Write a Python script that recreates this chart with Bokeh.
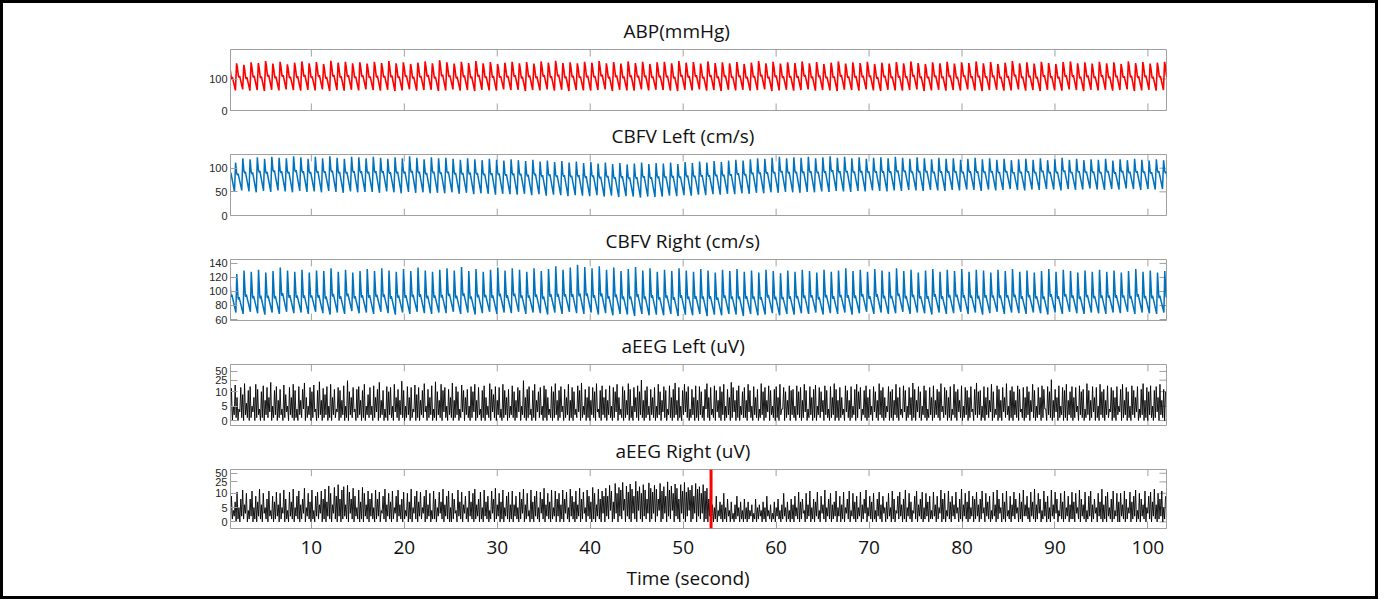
from bokeh.plotting import figure
from bokeh.layouts import column
from bokeh.models import Range1d, LinearAxis, FixedTicker, Span, Title
from bokeh.embed import file_html
from bokeh.resources import INLINE
import math

# ---------------- data ----------------
TITLES = ["ABP(mmHg)", "CBFV Left (cm/s)", "CBFV Right (cm/s)", "aEEG Left (uV)", "aEEG Right (uV)"]
X_LABEL = "Time (second)"
X_TICKS = [10, 20, 30, 40, 50, 60, 70, 80, 90, 100]
MARK_TIME = 53.0
BEAT_PERIOD = 0.78       # seconds per heart beat
AEEG_STEP = 0.2014       # seconds per aEEG oscillation

ABP_SYS = [146,150,145,153,151,157,149,155,147,152, 156,150,154,148,158,152,155,150,153,149,
           155,151,157,150,153,148,152,156,150,160, 153,149,155,151,157,150,154,148,152,155,
           150,154,149,156,152,158,151,153,150,155, 152,157,150,154,149,156,151,155,148,153,
           155,150,157,152,154,149,156,151,153,150, 154,148,152,157,150,155,149,153,151,156,
           150,154,148,152,156,149,153,151,155,148, 152,149,154,150,156,151,148,153,150,155,
           149,153,151,156,150,154,148,152,157,150, 153,149,155,151,148,154,156,150,153,149,
           155,150,153,148,156,151,154,149,152,155]
ABP_DIA = [66,64,67,63,65,62,66,64,67,65, 63,66,64,67,62,65,63,66,64,67, 65,63,66,62,64,67,63,65,66,62,
           64,67,63,65,62,66,64,63,67,65, 66,62,65,64,67,63,66,62,65,64, 63,65,67,62,66,64,63,67,64,66,
           65,63,62,66,64,67,63,65,62,66, 64,66,63,65,67,62,64,66,63,65, 67,63,65,64,62,66,65,63,67,64,
           62,66,64,63,65,67,62,64,66,63, 65,63,67,64,62,65,66,63,64,67, 63,65,62,66,64,63,67,65,62,66,
           64,66,63,65,67,62,64,66,63,65]

CBFV_L_SYS = [118,112,121,119,123,120,124,122,121,125, 123,120,124,121,125,122,120,124,123,121,
              124,122,120,123,121,125,122,119,123,121, 122,120,118,121,119,117,120,118,116,119,
              117,115,118,114,116,113,115,112,114,111, 113,110,112,109,111,108,110,112,109,111,
              110,112,109,113,111,114,112,115,113,116, 118,116,119,121,120,122,124,121,123,122,
              124,121,123,125,122,124,121,123,120,122, 123,121,124,122,120,123,121,119,122,120,
              121,118,120,122,119,121,118,120,117,119, 120,118,121,117,119,122,118,120,117,119,
              118,120,116,119,117,120,118,116,119,117]
CBFV_L_DIA = [52,50,53,51,49,52,50,53,51,49, 52,50,51,49,52,50,48,51,49,50, 50,48,51,49,47,50,48,49,47,48,
              47,49,46,48,45,47,46,44,46,45, 44,46,43,45,42,44,43,41,43,42, 41,43,40,42,39,41,40,38,40,39,
              40,42,41,43,42,44,43,45,44,46, 45,47,46,48,47,49,48,50,49,48, 50,49,51,50,52,51,50,52,51,53,
              52,51,53,52,54,53,52,54,53,52, 54,53,55,54,52,55,53,54,56,54, 53,55,54,56,55,53,56,54,55,57,
              55,54,56,55,57,56,54,56,55,56]

CBFV_R_SYS = [131,125,130,128,131,127,129,134,130,128, 131,127,130,129,133,128,131,127,129,132,
              129,133,130,128,132,129,134,130,128,131, 133,130,135,129,132,128,131,134,130,133,
              131,128,133,129,132,136,131,134,138,135, 133,136,131,134,129,132,135,130,133,128,
              131,129,133,130,128,132,130,127,131,129, 132,128,130,127,131,129,126,130,128,131,
              129,127,131,128,130,133,129,131,128,132, 130,128,133,129,131,127,130,132,128,131,
              129,132,128,131,130,127,131,129,132,128, 130,127,129,132,128,131,129,127,130,128,
              131,128,130,127,129,132,128,130,127,129]
CBFV_R_DIA = [72,70,68,71,69,67,70,68,71,69, 70,68,71,69,67,70,68,72,69,70, 68,71,69,67,70,68,71,69,68,70,
              69,71,68,70,67,69,71,68,70,69, 71,68,70,69,67,70,68,71,69,68, 70,67,69,66,68,67,65,68,66,67,
              66,68,65,67,66,68,65,67,66,68, 67,65,68,66,67,69,66,68,67,69, 68,70,67,69,68,70,67,69,71,68,
              70,68,69,71,68,70,69,67,70,68, 69,71,68,70,67,69,71,68,70,69, 68,70,69,67,70,68,71,69,68,70,
              69,68,70,69,71,68,70,69,68,70]

AEEG_L_PEAK = [
    13,5,17,8,4,14,9,19,6,11,15,5,8,18,12,4,10,16,7,14,8,21,5,11,15,
    7,12,4,17,9,5,14,8,18,11,4,15,7,12,20,8,5,14,10,17,4,11,22,7,13,
    9,15,5,18,8,12,4,14,11,7,16,5,24,10,8,14,4,12,15,7,11,18,5,9,14,
    5,16,8,12,21,7,11,4,15,10,14,5,18,8,12,7,23,11,5,15,8,14,4,17,9,
    14,7,11,19,5,12,8,16,4,22,10,7,18,11,14,5,12,8,20,7,15,10,4,17,11,
    8,12,5,15,10,18,7,14,4,11,16,8,5,19,12,9,15,7,14,4,18,11,8,12,5,
    16,10,7,14,11,5,24,8,12,15,4,11,18,7,10,14,5,16,12,8,4,15,10,19,7,
    11,15,5,12,8,18,7,14,10,4,16,11,20,5,12,8,15,7,14,10,19,4,11,16,8,
    12,7,16,5,14,10,18,8,4,15,11,7,19,12,5,14,8,16,10,25,7,11,15,5,12,
    8,14,5,18,10,7,15,11,4,16,8,12,20,7,14,5,11,18,10,15,4,12,8,16,7,
    15,10,5,12,19,8,14,4,16,11,7,15,10,18,5,12,8,21,14,7,11,16,5,10,14,
    7,18,11,5,15,8,12,4,19,10,14,7,16,11,5,12,15,8,18,4,14,10,7,16,11,
    12,5,16,10,14,7,18,11,4,15,8,12,17,5,14,10,7,16,11,4,15,8,19,12,7,
    14,8,4,16,11,7,15,5,12,18,10,14,4,11,16,8,12,5,15,10,7,19,11,14,8,
    5,15,10,12,7,18,8,14,4,16,11,5,14,8,20,12,7,15,10,5,16,11,4,14,8,
    16,7,12,10,19,5,14,11,8,15,4,18,10,12,7,16,5,14,11,8,15,4,12,20,10,
    11,5,15,8,14,7,18,10,4,16,12,7,14,8,19,5,11,15,10,7,16,12,4,14,8,
    15,10,7,18,11,5,14,8,16,12,4,15,10,26,7,12,8,16,5,14,11,18,7,10,15,
    8,14,5,16,10,12,4,19,11,7,15,8,14,5,18,10,12,7,16,4,14,11,8,15,5,
    12,18,7,14,10,5,16,11,8,15,4,12,19,7,14,10,16,5,11,15,8,18,7,12,10]
AEEG_L_LOW = [
    1,0,2,1,0,3,1,0,2,1,0,1,3,0,1,2,0,1,0,2,1,3,0,1,2,
    0,1,2,0,1,3,0,2,1,0,1,0,2,1,4,0,1,2,0,1,3,0,1,2,0,
    1,2,0,1,0,2,1,3,0,1,2,0,1,0,2,1,3,0,1,2,0,1,0,2,1,
    2,0,1,3,0,1,2,0,1,0,2,1,0,3,1,0,2,1,0,1,2,0,1,3,0,
    1,0,2,1,3,0,1,2,0,1,0,2,1,0,3,1,0,2,1,0,1,2,0,1,3,
    0,2,1,0,1,3,0,1,2,0,1,0,2,1,0,3,1,0,2,1,0,1,2,0,1,
    2,1,0,1,3,0,2,1,0,1,2,0,1,0,3,1,2,0,1,0,2,1,0,1,2,
    0,1,3,0,1,2,0,1,0,2,1,3,0,1,2,0,1,0,2,1,0,3,1,0,2,
    1,0,2,1,0,1,3,0,2,1,0,1,2,0,1,0,3,1,0,2,1,0,1,2,0,
    2,1,0,1,2,0,3,1,0,2,1,0,1,2,0,1,0,2,3,1,0,1,2,0,1,
    0,2,1,0,4,1,0,2,1,0,3,1,0,2,0,1,2,0,1,3,0,1,0,2,1,
    1,0,3,1,0,2,1,0,1,2,0,1,3,0,2,1,0,1,0,2,4,0,1,2,0,
    2,1,0,2,1,0,1,3,0,1,2,0,1,0,2,1,3,0,2,1,0,1,2,0,1,
    0,1,2,0,3,1,0,1,2,0,1,4,0,2,1,0,1,2,0,3,1,0,2,1,0,
    1,3,0,1,0,2,1,0,2,1,3,0,1,2,0,1,0,3,1,0,2,1,0,1,2,
    0,1,2,1,0,3,1,2,0,1,0,2,1,0,3,1,0,1,2,0,1,3,0,2,1,
    2,0,1,0,2,1,3,0,1,2,0,1,0,3,1,2,0,1,0,2,1,0,3,1,0,
    1,2,0,3,1,0,1,2,0,1,4,0,2,1,0,1,3,0,1,2,0,1,0,2,1,
    0,1,3,0,2,1,0,1,2,0,1,3,0,1,0,2,1,0,2,1,3,0,1,0,2,
    3,0,1,2,0,1,0,2,1,3,0,1,2,0,1,0,2,1,0,1,3,0,2,1,0]

AEEG_R_PEAK = [
    9,4,7,11,5,8,13,6,10,4,8,12,5,9,7,14,6,10,5,8,12,4,9,7,11,
    6,10,5,13,8,4,11,7,14,5,9,12,6,8,15,5,10,7,13,4,9,11,6,12,8,
    14,7,18,10,6,16,9,20,8,13,17,6,19,11,8,15,9,5,13,7,16,10,6,12,8,
    10,5,13,8,11,4,9,14,6,10,7,12,5,9,13,6,8,11,4,10,7,14,5,9,12,
    7,11,5,9,13,6,10,4,12,8,5,11,7,14,6,9,12,5,10,8,4,13,7,11,6,
    9,5,12,7,10,14,6,8,11,5,13,7,9,4,12,8,15,6,10,7,13,5,9,11,6,
    12,6,9,5,11,8,14,6,10,4,13,7,9,12,5,11,8,15,6,10,7,13,5,12,8,
    10,6,13,8,11,5,14,9,7,12,6,15,8,11,5,13,9,7,16,10,6,14,8,12,9,
    15,9,19,12,7,22,10,16,13,24,8,18,11,21,14,9,26,12,17,10,20,13,8,23,15,
    11,19,14,8,22,12,17,9,25,13,18,10,21,15,8,20,12,24,11,16,13,19,9,22,14,
    17,10,20,12,15,8,21,6,5,9,4,7,6,10,5,8,4,7,3,6,9,5,7,4,8,
    5,7,4,6,3,8,5,6,4,7,5,9,4,6,3,7,5,8,4,6,10,5,7,4,8,
    6,9,5,11,7,8,4,10,6,12,5,8,7,11,4,9,6,13,5,8,10,6,7,12,5,
    9,6,11,5,8,12,4,10,7,9,5,11,6,8,13,5,9,7,10,4,8,11,6,9,5,
    7,10,5,12,8,4,9,11,6,8,13,5,10,7,4,9,12,6,8,11,5,10,7,9,4,
    11,6,9,5,13,8,10,4,12,7,9,6,11,5,8,14,6,10,7,12,5,9,8,11,6,
    8,12,5,10,7,9,4,11,6,13,8,5,10,7,12,4,9,6,11,8,5,10,7,13,6,
    9,5,11,7,14,6,10,8,4,12,7,9,5,13,6,11,8,4,10,7,12,5,9,6,11,
    7,10,5,13,8,6,11,4,9,12,6,8,5,10,7,14,6,9,11,5,8,12,4,10,7,
    10,6,12,8,5,11,7,9,13,4,10,8,6,12,5,9,11,7,14,6,10,8,12,5,9]
AEEG_R_LOW = [
    0,1,2,0,1,0,2,1,3,0,1,2,0,1,0,2,1,0,3,1,0,2,1,0,1,
    2,0,1,3,0,1,0,2,1,0,2,1,0,1,3,0,2,1,0,1,0,2,1,3,0,
    1,0,2,1,0,3,1,0,2,0,1,2,1,0,3,1,0,2,1,0,1,0,2,1,0,
    2,1,0,1,2,0,3,1,0,2,1,0,1,3,0,2,1,0,1,2,0,1,0,3,1,
    0,2,1,3,0,1,2,0,1,1,0,2,3,1,0,2,1,0,0,1,3,0,2,1,0,
    3,1,0,2,1,0,1,2,0,1,0,2,1,0,1,3,0,1,2,0,1,0,2,1,0,
    1,0,2,1,0,1,3,0,1,2,0,1,0,2,1,0,3,1,0,2,1,0,1,2,0,
    2,0,1,0,3,1,0,2,1,0,1,2,0,1,3,0,2,1,0,1,0,2,1,0,3,
    0,2,1,4,0,1,3,0,2,1,4,0,2,1,0,3,1,0,4,1,0,2,1,3,0,
    1,3,0,2,4,0,1,3,0,2,1,4,0,2,1,0,3,1,0,2,4,0,1,3,0,
    2,1,3,0,1,0,2,1,0,1,0,2,1,0,1,0,2,0,1,0,1,2,0,1,0,
    1,0,1,2,0,1,0,1,2,0,1,0,2,1,0,1,0,2,1,0,1,2,0,1,0,
    1,0,2,1,0,1,3,0,1,2,0,1,0,2,1,0,3,1,0,2,1,0,1,2,0,
    2,0,1,0,3,1,0,2,1,0,1,2,0,1,3,0,2,1,0,1,0,2,1,0,3,
    0,1,2,0,1,0,3,1,2,0,1,0,2,1,0,3,1,0,2,1,0,1,2,0,1,
    1,2,0,1,3,0,1,0,2,1,0,2,1,3,0,1,0,2,1,0,1,2,0,1,2,
    0,1,3,0,2,1,0,1,2,0,1,3,0,1,0,2,1,0,2,1,3,0,1,0,2,
    2,1,0,2,1,0,1,3,0,1,2,0,1,0,2,1,3,0,2,1,0,1,2,0,1,
    1,0,3,1,0,2,1,0,1,2,0,1,3,0,2,1,0,1,0,2,1,0,1,2,0,
    0,2,1,0,1,3,0,1,2,0,1,0,2,1,0,3,1,0,2,1,0,1,2,0,1]

AEEG_TICK_UV = [0, 5, 10, 25, 50]

# ---------------- layout / style ----------------
GRAY = "#a0a0a0"
X0, X1 = 1.3, 102.0
XR = Range1d(X0, X1)
W = 1372
BL, BR = 227, 209
FRAME_W = W - BL - BR
TICK_LEN = 7
TITLE_OFFSETS = [393, 381, 375, 391, 385]   # px from frame left, left-aligned titles
XLABEL_OFFSET = 396
FONT = "Open Sans"
TXT = "#111111"


def aeeg_scale(v):
    # aEEG display scale: linear 0-10 uV, logarithmic above 10 uV
    return v if v <= 10 else 10 + 10 * math.log10(v / 10.0)


def pulse_trace(sys_v, dia_v, t0, phases, levels):
    xs, ys = [], []
    n = len(sys_v)
    peak_phase = phases[levels.index(max(levels))]
    for k in range(n):
        nxt = dia_v[k + 1] if k + 1 < n else dia_v[k]
        for f, lv in zip(phases[:-1], levels[:-1]):
            base = dia_v[k] if f <= peak_phase else nxt
            xs.append(t0 + (k + f) * BEAT_PERIOD)
            ys.append(base + (sys_v[k] - base) * lv)
    xs.append(t0 + n * BEAT_PERIOD)
    ys.append(dia_v[-1])
    return xs, ys


def aeeg_trace(peaks, lows, t0):
    xs, ys = [], []
    for i, (pk, lo) in enumerate(zip(peaks, lows)):
        xs += [t0 + i * AEEG_STEP, t0 + (i + 0.5) * AEEG_STEP]
        ys += [aeeg_scale(lo), aeeg_scale(pk)]
    return xs, ys


def panel(idx, yr, yticks, top, frame_h, bottom, overrides=None, last=False):
    p = figure(width=W, height=top + frame_h + bottom, x_range=XR, y_range=Range1d(*yr),
               output_backend="svg", toolbar_location=None,
               x_axis_location=None, y_axis_location=None,
               min_border_left=BL, min_border_right=BR,
               min_border_top=top, min_border_bottom=bottom)
    p.grid.visible = False
    p.outline_line_color = GRAY
    p.border_fill_color = "white"

    p.title.text = TITLES[idx]
    p.title.align = "left"
    p.title.offset = TITLE_OFFSETS[idx]
    p.title.text_font = FONT
    p.title.text_font_style = "normal"
    p.title.text_font_size = "19px"
    p.title.text_color = TXT
    p.title.standoff = 11

    left = LinearAxis(ticker=FixedTicker(ticks=yticks))
    if overrides:
        left.major_label_overrides = overrides
    left.axis_line_color = GRAY
    left.major_tick_line_color = GRAY
    left.major_tick_in = TICK_LEN
    left.major_tick_out = 0
    left.minor_tick_line_color = None
    left.major_label_text_font = "Liberation Sans"
    left.major_label_text_font_size = "11px"
    left.major_label_text_color = "#262626"
    left.major_label_standoff = 3
    p.add_layout(left, "left")

    # inward box ticks on the top, bottom and right edges
    dy = TICK_LEN * (yr[1] - yr[0]) / frame_h
    dx = TICK_LEN * (X1 - X0) / FRAME_W
    p.segment(X_TICKS, [yr[1]] * len(X_TICKS), X_TICKS, [yr[1] - dy] * len(X_TICKS),
              line_color=GRAY, line_width=1)
    if not last:
        p.segment(X_TICKS, [yr[0]] * len(X_TICKS), X_TICKS, [yr[0] + dy] * len(X_TICKS),
                  line_color=GRAY, line_width=1)
    p.segment([X1] * len(yticks), yticks, [X1 - dx] * len(yticks), yticks,
              line_color=GRAY, line_width=1)

    if last:
        bot = LinearAxis(ticker=FixedTicker(ticks=X_TICKS))
        bot.axis_line_color = GRAY
        bot.major_tick_line_color = GRAY
        bot.major_tick_in = TICK_LEN
        bot.major_tick_out = 0
        bot.minor_tick_line_color = None
        bot.major_label_text_font = FONT
        bot.major_label_text_font_size = "19px"
        bot.major_label_text_color = TXT
        bot.major_label_standoff = 12
        p.add_layout(bot, "below")
        xl = Title(text=X_LABEL, align="left", offset=XLABEL_OFFSET,
                   text_font=FONT, text_font_style="normal", text_font_size="19px",
                   text_color=TXT, standoff=12)
        p.add_layout(xl, "below")
    return p


aeeg_ticks = [round(aeeg_scale(v), 2) for v in AEEG_TICK_UV]
aeeg_over = {t: str(v) for t, v in zip(aeeg_ticks, AEEG_TICK_UV)}

p1 = panel(0, (0, 194), [0, 100], 46, 61, 5)
x, y = pulse_trace(ABP_SYS, ABP_DIA, 1.05, [0, 0.16, 0.26, 0.42, 0.5, 0.58, 1.0],
                   [0, 1, 0.85, 0.5, 0.46, 0.52, 0])
p1.line(x, y, line_color="#ff0000", line_width=1.6)

p2 = panel(1, (0, 129), [0, 50, 100], 38, 62, 5)
x, y = pulse_trace(CBFV_L_SYS, CBFV_L_DIA, 0.95, [0, 0.15, 0.3, 0.42, 0.5, 1.0],
                   [0, 1, 0.62, 0.55, 0.6, 0])
p2.line(x, y, line_color="#0072BD", line_width=1.5)

p3 = panel(2, (58.6, 145.6), [60, 80, 100, 120, 140], 38, 62, 5)
x, y = pulse_trace(CBFV_R_SYS, CBFV_R_DIA, 1.1, [0, 0.12, 0.3, 0.36, 0.44, 1.0],
                   [0, 1, 0.4, 0.36, 0.42, 0])
p3.line(x, y, line_color="#0072BD", line_width=1.5)

p4 = panel(3, (-1.7, 19.4), aeeg_ticks, 38, 62, 5, overrides=aeeg_over)
x, y = aeeg_trace(AEEG_L_PEAK, AEEG_L_LOW, 1.3)
p4.line(x, y, line_color="black", line_width=0.9)

p5 = panel(4, (-2.3, 18.3), aeeg_ticks, 38, 62, 66, overrides=aeeg_over, last=True)
x, y = aeeg_trace(AEEG_R_PEAK, AEEG_R_LOW, 1.3)
p5.line(x, y, line_color="black", line_width=0.9)
p5.add_layout(Span(location=MARK_TIME, dimension="height", line_color="#ff0000", line_width=3))

layout = column(p1, p2, p3, p4, p5, spacing=0,
                styles={"border": "3px solid black", "margin-bottom": "-8px"})

open("out.html", "w").write(file_html(layout, INLINE))
